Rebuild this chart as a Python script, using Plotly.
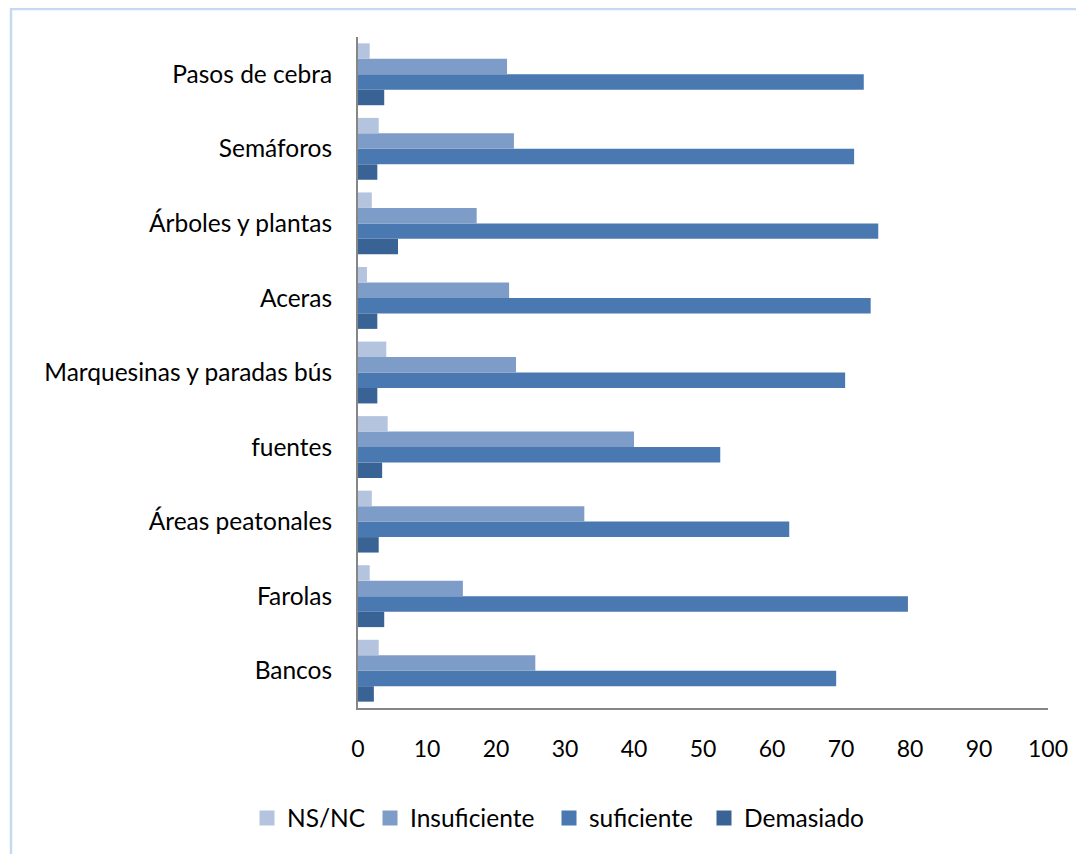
import plotly.graph_objects as go

categories = ["Bancos", "Farolas", "Áreas peatonales", "fuentes", "Marquesinas y paradas bús",
              "Aceras", "Árboles y plantas", "Semáforos", "Pasos de cebra"]
ns_nc = [3.0, 1.7, 2.0, 4.3, 4.1, 1.3, 2.0, 3.0, 1.7]
insuficiente = [25.7, 15.2, 32.8, 40.0, 22.9, 21.9, 17.2, 22.6, 21.6]
suficiente = [69.3, 79.7, 62.5, 52.5, 70.6, 74.3, 75.4, 71.9, 73.3]
demasiado = [2.3, 3.8, 3.0, 3.5, 2.8, 2.8, 5.8, 2.8, 3.8]

series = [
    ("Demasiado", demasiado, "#3A6395"),
    ("suficiente", suficiente, "#4A78B0"),
    ("Insuficiente", insuficiente, "#7E9CC8"),
    ("NS/NC", ns_nc, "#B4C4DF"),
]

# page body has an 8px margin; figure is sized so the plot area lands at page 358..1048 x 37..708
OFF = 8
W, H = 1084 - OFF, 854 - OFF
L, T = 358 - OFF, 37 - OFF
R = W - (1048 - OFF)
B = H - (708 - OFF)
pw, ph = 1048 - 358, 708 - 37

def px(x):
    return (x - 358) / pw

def py(y):
    return (708 - y) / ph

fig = go.Figure()
for name, vals, color in series:
    fig.add_trace(go.Bar(y=categories, x=vals, name=name, orientation="h", showlegend=False,
                         marker=dict(color=color, line=dict(width=0))))

# legend entries (one legend each so the spacing can follow the reference)
legend_names = ["legend", "legend2", "legend3", "legend4"]
legend_x = [247, 370, 549, 704]
legend_layout = {}
for i, (name, vals, color) in enumerate(reversed(series)):
    fig.add_trace(go.Scatter(x=[None], y=[None], mode="markers", name=name,
                             marker=dict(symbol="square", size=15, color=color),
                             legend=legend_names[i], showlegend=True))
    legend_layout[legend_names[i]] = dict(
        orientation="h", x=px(legend_x[i]), xanchor="left", y=py(818), yanchor="middle",
        font=dict(size=24.5), itemwidth=30, bgcolor="rgba(0,0,0,0)")

fig.update_layout(
    width=W, height=H,
    margin=dict(l=L, r=R, t=T, b=B),
    paper_bgcolor="white", plot_bgcolor="white",
    barmode="group", bargap=0.17, bargroupgap=0,
    font=dict(family="Lato, Carlito, sans-serif", size=24.5, color="#000000"),
    xaxis=dict(range=[0, 100], dtick=10, showgrid=False, zeroline=False,
               showline=True, linecolor="#868686", linewidth=1.5, ticks="",
               ticklabelstandoff=20, tickfont=dict(size=23), fixedrange=True),
    yaxis=dict(showgrid=False, zeroline=False, showline=True, linecolor="#868686",
               linewidth=2, ticks="", ticklabelstandoff=19, fixedrange=True,
               type="category", categoryorder="array", categoryarray=categories),
    shapes=[dict(type="rect", xref="paper", yref="paper",
                 x0=px(11), x1=px(1095), y0=py(870), y1=py(9),
                 line=dict(color="#C6D9F1", width=2.5), layer="below")],
    **legend_layout,
)

fig.write_html("out.html")
